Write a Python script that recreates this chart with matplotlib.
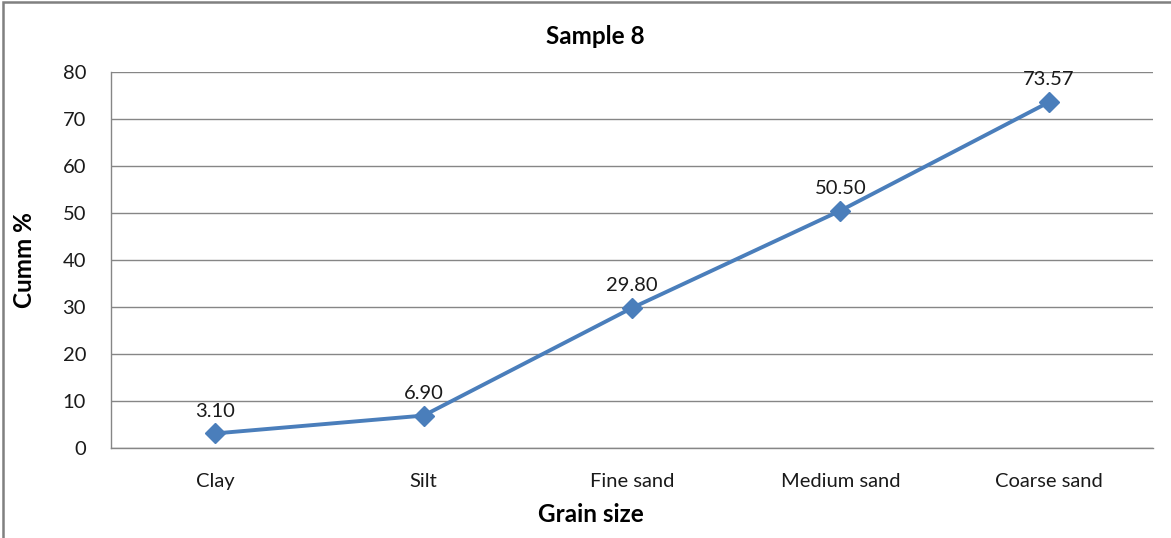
import matplotlib.pyplot as plt
from matplotlib.patches import Rectangle

plt.rcParams['font.family'] = ['Lato', 'DejaVu Sans']

# data
grain_sizes = ['Clay', 'Silt', 'Fine sand', 'Medium sand', 'Coarse sand']
cumm_pct = [3.10, 6.90, 29.80, 50.50, 73.57]
y_ticks = [0, 10, 20, 30, 40, 50, 60, 70, 80]

line_color = '#4A7EBB'
grid_color = '#868686'

fig = plt.figure(figsize=(11.71, 5.38), dpi=100)
ax = fig.add_axes([111 / 1171, 1 - 448 / 538, (1153 - 111) / 1171, (448 - 72) / 538])

x = list(range(len(grain_sizes)))
ax.plot(x, cumm_pct, color=line_color, linewidth=2.8, marker='D', markersize=10,
        markerfacecolor=line_color, markeredgecolor=line_color, zorder=3)

for xi, val in zip(x, cumm_pct):
    ax.annotate('{:.2f}'.format(val), (xi, val), xytext=(0, 10), textcoords='offset points',
                ha='center', va='bottom', fontsize=14.5, color='#1a1a1a')

ax.set_xlim(-0.5, len(grain_sizes) - 0.5)
ax.set_ylim(0, 80)
ax.set_yticks(y_ticks)
ax.set_xticks(x)
ax.set_xticklabels(grain_sizes)
ax.tick_params(axis='both', length=0, labelsize=14.5, colors='#1a1a1a')
ax.tick_params(axis='y', pad=18)
ax.tick_params(axis='x', pad=18)

ax.yaxis.grid(True, color=grid_color, linewidth=1)
ax.set_axisbelow(True)
for side in ['top', 'right']:
    ax.spines[side].set_visible(False)
for side in ['left', 'bottom']:
    ax.spines[side].set_color(grid_color)
    ax.spines[side].set_linewidth(1)

fig.text(595 / 1171, 1 - 37 / 538, 'Sample 8', ha='center', va='center', fontsize=17.5, fontweight='bold')
fig.text(25 / 1171, 1 - 260 / 538, 'Cumm %', ha='center', va='center', rotation=90, fontsize=17.5, fontweight='bold')
fig.text(591 / 1171, 1 - 515 / 538, 'Grain size', ha='center', va='center', fontsize=17.5, fontweight='bold')

# outer chart border
fig.patches.append(Rectangle((3 / 1171, -0.01), 1.2, 1 - 2 / 538 + 0.01, transform=fig.transFigure,
                             fill=False, edgecolor='#808080', linewidth=1.8))

fig.savefig('out.png', dpi=100)
